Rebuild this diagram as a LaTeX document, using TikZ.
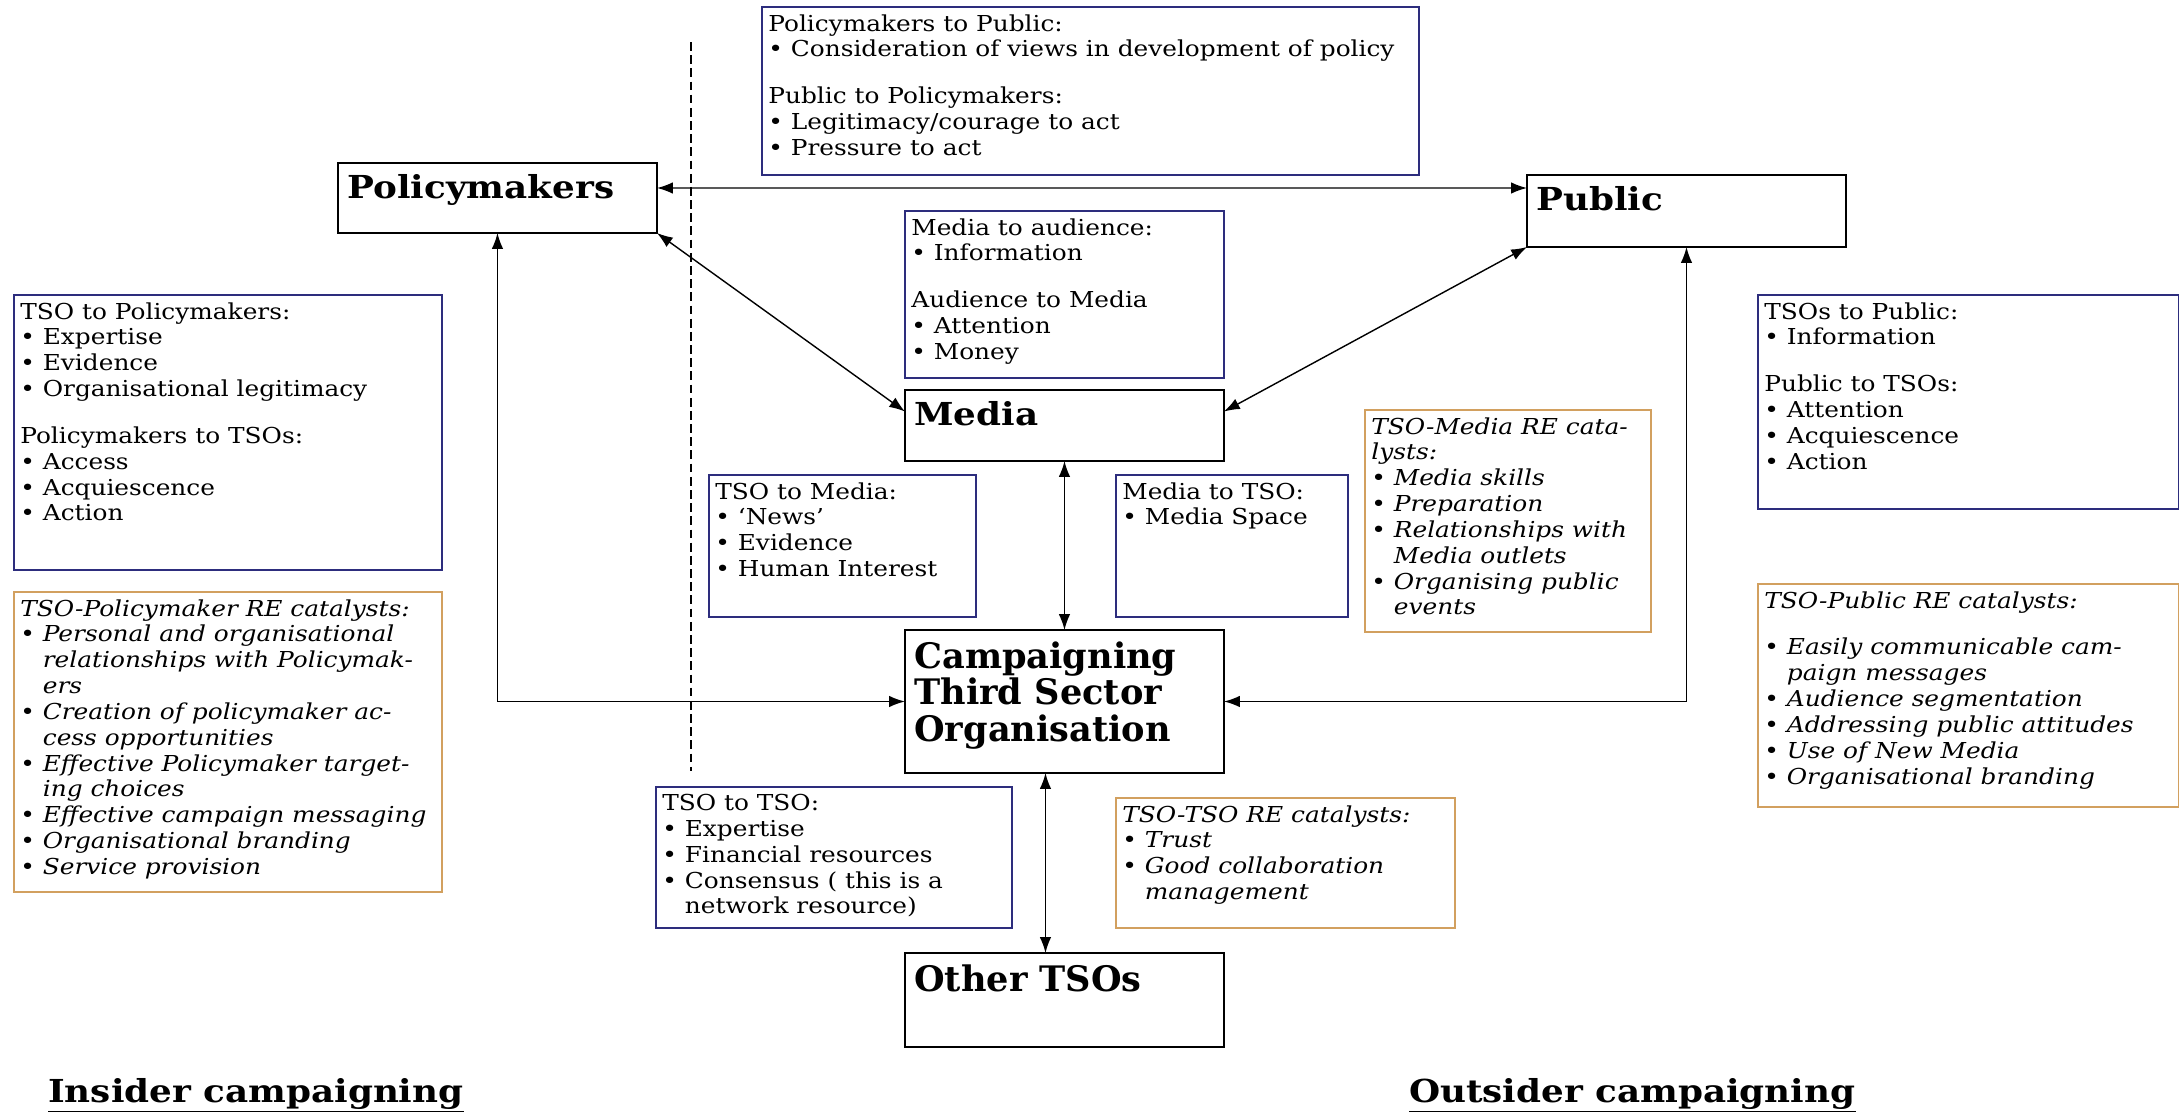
\documentclass[tikz,border=0pt]{standalone}
\usepackage{fontspec}
\setmainfont{DejaVu Serif}[FakeStretch=1.13]
\newfontfamily\tsofont{DejaVu Serif}
\usepackage{tikz}
\usetikzlibrary{arrows.meta}
\definecolor{lineblue}{RGB}{45,45,125}
\definecolor{linetan}{RGB}{210,160,95}
\newcommand{\itm}{\textbullet\ }
\newcommand{\cont}{\phantom{\textbullet}\ }

\begin{document}
\begin{tikzpicture}[x=0.02cm,y=-0.02cm,
  font=\fontsize{12.5}{14.7}\selectfont,
  mb/.style={draw,line width=1.1pt,inner sep=0pt,outer sep=0pt,anchor=north west},
  ib/.style={draw=lineblue,line width=0.8pt,inner sep=0pt,outer sep=0pt,anchor=north west},
  cb/.style={draw=linetan,line width=0.8pt,inner sep=0pt,outer sep=0pt,anchor=north west},
  ht/.style={anchor=north west,align=left,inner xsep=0.18cm,inner ysep=0.22cm,
    font=\fontsize{18}{20}\selectfont\bfseries},
  hb/.style={ht,font=\tsofont\bfseries\fontsize{20}{21}\selectfont},
  bt/.style={anchor=north west,align=left,inner xsep=0.12cm,inner ysep=0.14cm},
  ct/.style={bt,font=\fontsize{12.5}{14.7}\selectfont\itshape},
  dar/.style={{Latex[length=9pt,width=6.5pt]}-{Latex[length=9pt,width=6.5pt]},line width=0.8pt},
  lab/.style={anchor=base west,font=\fontsize{18}{20}\selectfont\bfseries}]
  \useasboundingbox (0,0) rectangle (2179,1112);
  % insider / outsider divide
  \coordinate (dtop) at (691,42);
  \coordinate (dbot) at (691,771);
  \draw[dash pattern=on 5pt off 2.5pt,line width=0.8pt] (dtop) -- (dbot);
  % actors
  \node[mb,minimum width=6.38cm,minimum height=1.40cm] (pol) at (338,163) {};
  \node[ht] (pol-t) at (pol.north west) {Policymakers};
  \node[mb,minimum width=6.38cm,minimum height=1.44cm] (pub) at (1527,175) {};
  \node[ht] (pub-t) at (pub.north west) {Public};
  \node[mb,minimum width=6.38cm,minimum height=1.42cm] (med) at (905,390) {};
  \node[ht] (med-t) at (med.north west) {Media};
  \node[mb,minimum width=6.38cm,minimum height=2.86cm] (tso) at (905,630) {};
  \node[hb] (tso-t) at (tso.north west) {Campaigning\\Third Sector\\Organisation};
  \node[mb,minimum width=6.38cm,minimum height=1.88cm] (oth) at (905,953) {};
  \node[hb] (oth-t) at (oth.north west) {Other TSOs};
  % exchange boxes
  \node[ib,minimum width=13.14cm,minimum height=3.36cm] (xpp) at (762,7) {};
  \node[bt] (xpp-t) at (xpp.north west) {Policymakers to Public:\\
    \itm Consideration of views in development of policy\\[12pt]
    Public to Policymakers:\\ \itm Legitimacy/courage to act\\ \itm Pressure to act};
  \node[ib,minimum width=6.38cm,minimum height=3.34cm] (xma) at (905,211) {};
  \node[bt] (xma-t) at (xma.north west) {Media to audience:\\ \itm Information\\[12pt]
    Audience to Media\\ \itm Attention\\ \itm Money};
  \node[ib,minimum width=8.56cm,minimum height=5.50cm] (xtp) at (14,295) {};
  \node[bt] (xtp-t) at (xtp.north west) {TSO to Policymakers:\\ \itm Expertise\\
    \itm Evidence\\ \itm Organisational legitimacy\\[12pt]
    Policymakers to TSOs:\\ \itm Access\\ \itm Acquiescence\\ \itm Action};
  \node[ib,minimum width=5.34cm,minimum height=2.84cm] (xtm) at (709,475) {};
  \node[bt] (xtm-t) at (xtm.north west) {TSO to Media:\\ \itm ‘News’\\ \itm Evidence\\
    \itm Human Interest};
  \node[ib,minimum width=4.64cm,minimum height=2.84cm] (xmt) at (1116,475) {};
  \node[bt] (xmt-t) at (xmt.north west) {Media to TSO:\\ \itm Media Space};
  \node[ib,minimum width=8.42cm,minimum height=4.28cm] (xtu) at (1758,295) {};
  \node[bt] (xtu-t) at (xtu.north west) {TSOs to Public:\\ \itm Information\\[12pt]
    Public to TSOs:\\ \itm Attention\\ \itm Acquiescence\\ \itm Action};
  \node[ib,minimum width=7.12cm,minimum height=2.82cm] (xtt) at (656,787) {};
  \node[bt] (xtt-t) at (xtt.north west) {TSO to TSO:\\ \itm Expertise\\
    \itm Financial resources\\ \itm Consensus ( this is a\\ \cont network resource)};
  % catalyst boxes
  \node[cb,minimum width=8.56cm,minimum height=6.00cm] (kpol) at (14,592) {};
  \node[ct] (kpol-t) at (kpol.north west) {TSO-Policymaker RE catalysts:\\
    \itm Personal and organisational\\ \cont relationships with Policymak-\\ \cont ers\\
    \itm Creation of policymaker ac-\\ \cont cess opportunities\\
    \itm Effective Policymaker target-\\ \cont ing choices\\
    \itm Effective campaign messaging\\ \itm Organisational branding\\
    \itm Service provision};
  \node[cb,minimum width=5.72cm,minimum height=4.44cm] (kmed) at (1365,410) {};
  \node[ct] (kmed-t) at (kmed.north west) {TSO-Media RE cata-\\ lysts:\\
    \itm Media skills\\ \itm Preparation\\ \itm Relationships with\\
    \cont Media outlets\\ \itm Organising public\\ \cont events};
  \node[cb,minimum width=8.42cm,minimum height=4.46cm] (kpub) at (1758,584) {};
  \node[ct] (kpub-t) at (kpub.north west) {TSO-Public RE catalysts:\\[12pt]
    \itm Easily communicable cam-\\ \cont paign messages\\ \itm Audience segmentation\\
    \itm Addressing public attitudes\\ \itm Use of New Media\\ \itm Organisational branding};
  \node[cb,minimum width=6.78cm,minimum height=2.60cm] (ktso) at (1116,798) {};
  \node[ct] (ktso-t) at (ktso.north west) {TSO-TSO RE catalysts:\\ \itm Trust\\
    \itm Good collaboration\\ \cont management};
  % two-way links
  \draw[dar] ([yshift=0.2cm]pol.east) -- ([yshift=0.46cm]pub.west);
  \draw[dar] (pol.south east) -- (med.175);
  \draw[dar] (pub.south west) -- (med.5);
  \draw[dar] (med.south) -- (tso.north);
  \draw[dar] (pol.south) |- (tso.west);
  \draw[dar] (pub.south) |- (tso.east);
  \draw[dar] ([xshift=-0.38cm]tso.south) -- ([xshift=-0.38cm]oth.north);
  % campaign types
  \node[lab] (ins) at (42,1102) {\underline{Insider campaigning}};
  \node[lab] (outs) at (1403,1102) {\underline{Outsider campaigning}};
\end{tikzpicture}
\end{document}
